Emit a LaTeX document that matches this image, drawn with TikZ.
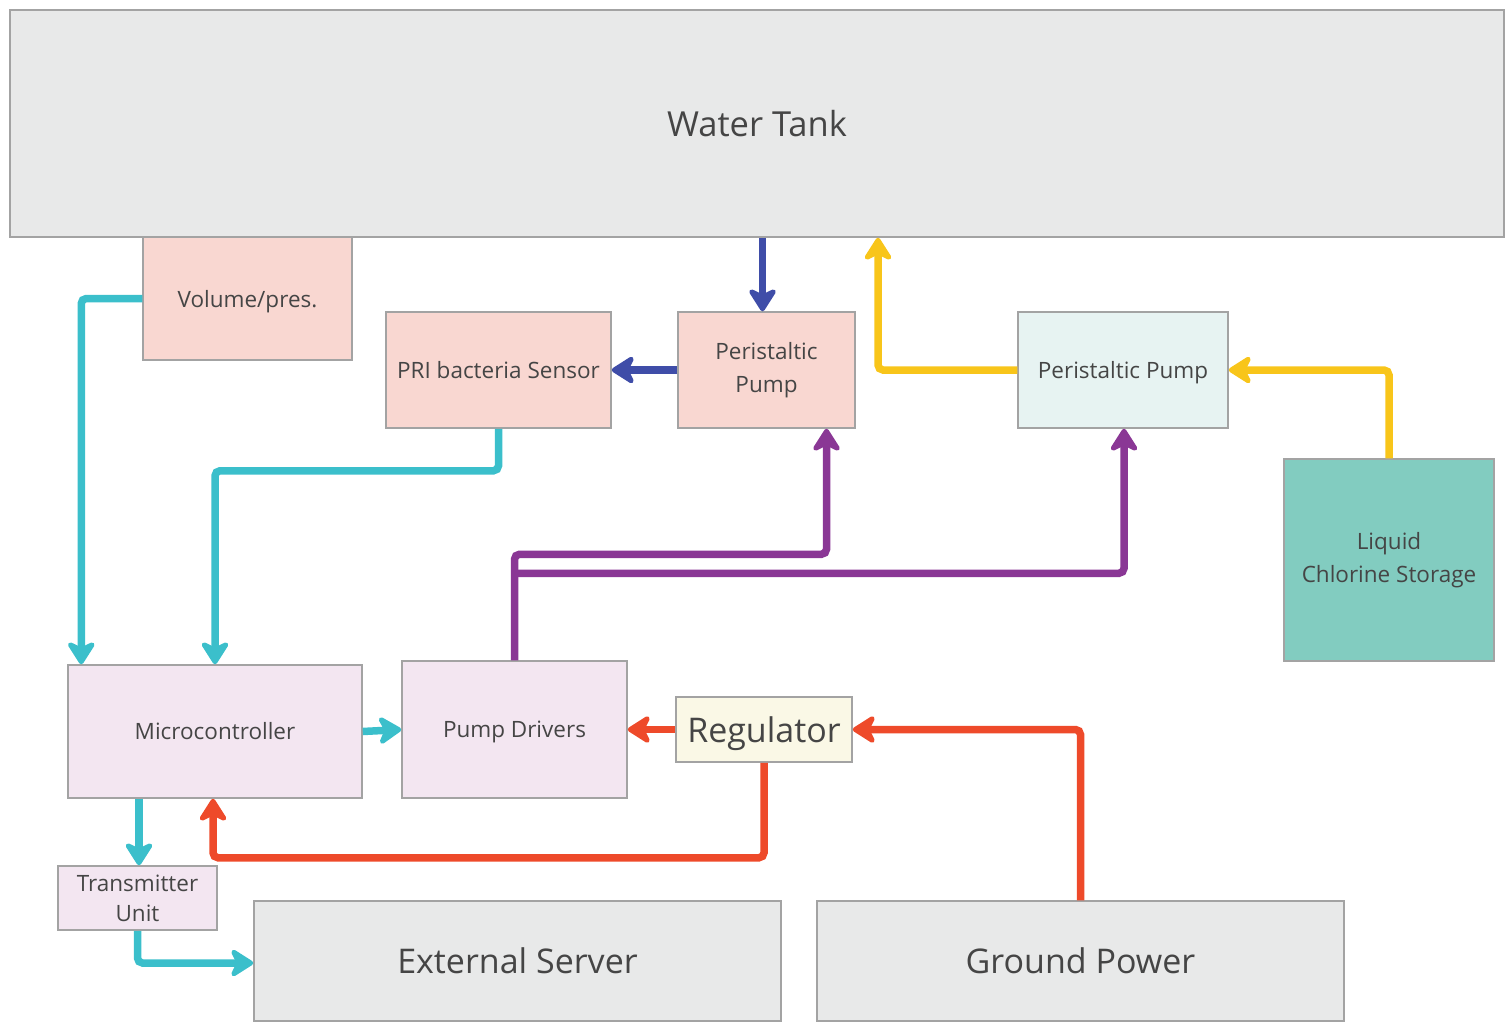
\documentclass[tikz,border=0pt]{standalone}
\usepackage{fontspec}
\setmainfont{Open Sans}
\usetikzlibrary{arrows.meta,calc}
\definecolor{tankgray}{HTML}{E8E9E9}
\definecolor{edgegray}{HTML}{A3A3A3}
\definecolor{pinkbox}{HTML}{F9D7D1}
\definecolor{iceblue}{HTML}{E7F3F2}
\definecolor{tealbox}{HTML}{82CCC0}
\definecolor{lavender}{HTML}{F3E6F1}
\definecolor{cream}{HTML}{FAF8E6}
\definecolor{txt}{HTML}{454545}
\definecolor{flowblue}{HTML}{3F4DA8}
\definecolor{flowyellow}{HTML}{F8C51A}
\definecolor{flowpurple}{HTML}{8A3795}
\definecolor{flowcyan}{HTML}{3BBFCB}
\definecolor{flowred}{HTML}{EE4A2A}
\tikzset{
  box/.style={draw=edgegray, line width=1.5pt, inner sep=0pt, align=center,
    text=txt, font=\fontsize{22.5}{33}\selectfont},
  bigtext/.style={font=\fontsize{34}{40}\selectfont},
  flat/.style={text depth=0pt},
  flow/.style={line width=7.5pt, rounded corners=5pt,
    -{Stealth[length=27pt,width=34pt,inset=8pt,round]}},
}
\begin{document}
\begin{tikzpicture}[x=1pt,y=-1pt]
\useasboundingbox (0,0) rectangle (1512,1023);
% boxes
\node[box, fill=tankgray, bigtext, font=\fontsize{34.5}{40}\selectfont, minimum width=1494pt, minimum height=227pt] (tank) at (757,123.5) {Water Tank};
\node[box, flat, fill=pinkbox, minimum width=209pt, minimum height=123pt] (vol) at (247.5,298.5) {Volume/pres.};
\node[box, fill=pinkbox, minimum width=225pt, minimum height=116pt] (pri) at (498.5,370) {PRI bacteria Sensor};
\node[box, fill=pinkbox, minimum width=177pt, minimum height=116pt] (pumpA) at (766.5,370) {Peristaltic\\Pump};
\node[box, flat, fill=iceblue, minimum width=210pt, minimum height=116pt] (pumpB) at (1123,370) {Peristaltic Pump};
\node[box, fill=tealbox, minimum width=210pt, minimum height=202pt] (chlor) at (1389,560) {Liquid\\Chlorine Storage};
\node[box, fill=lavender, minimum width=294pt, minimum height=133pt] (micro) at (215,731.5) {Microcontroller};
\node[box, flat, fill=lavender, minimum width=225pt, minimum height=137pt] (drv) at (514.5,729.5) {Pump Drivers};
\node[box, flat, fill=cream, bigtext, minimum width=176pt, minimum height=65pt] (reg) at (764,729.5) {Regulator};
\node[box, fill=lavender, font=\fontsize{22.5}{30}\selectfont, minimum width=159pt, minimum height=64pt] (trans) at (137.5,898) {Transmitter\\Unit};
\node[box, fill=tankgray, bigtext, minimum width=527pt, minimum height=120pt] (ext) at (517.5,961) {External Server};
\node[box, flat, fill=tankgray, bigtext, minimum width=527pt, minimum height=120pt] (gnd) at (1080.5,961) {Ground Power};
% water path through the sensing pump
\draw[flow, flowblue] ([xshift=-4pt]pumpA.north |- tank.south) -- ([xshift=-4pt]pumpA.north);
\draw[flow, flowblue] (pumpA.west) -- (pri.east);
% chlorine dosing
\draw[flow, flowyellow] (pumpB.west) -| ($(tank.south)+(121,0)$);
\draw[flow, flowyellow] (chlor.north) |- (pumpB.east);
% pump drive lines
\draw[flow, flowpurple] (drv.north) -- ++(0,-106) -| ([xshift=60pt]pumpA.south);
\draw[flow, flowpurple] ([yshift=87pt]drv.north) -| ([xshift=1pt]pumpB.south);
% signals
\draw[flow, flowcyan] (vol.west) -| ([xshift=14pt]micro.north west);
\draw[flow, flowcyan] (pri.south) -- ++(0,42) -| (micro.north);
\draw[flow, flowcyan] (micro.east) -- (drv.west);
\draw[flow, flowcyan] ([xshift=1.5pt]trans.north |- micro.south) -- ([xshift=1.5pt]trans.north);
\draw[flow, flowcyan] (trans.south) |- ([yshift=-2pt]ext.west);
% power
\draw[flow, flowred] (reg.west) -- (drv.east);
\draw[flow, flowred] (reg.south) -- ++(0,95) -| ([xshift=-2pt]micro.south);
\draw[flow, flowred] (gnd.north) |- (reg.east);
\end{tikzpicture}
\end{document}
